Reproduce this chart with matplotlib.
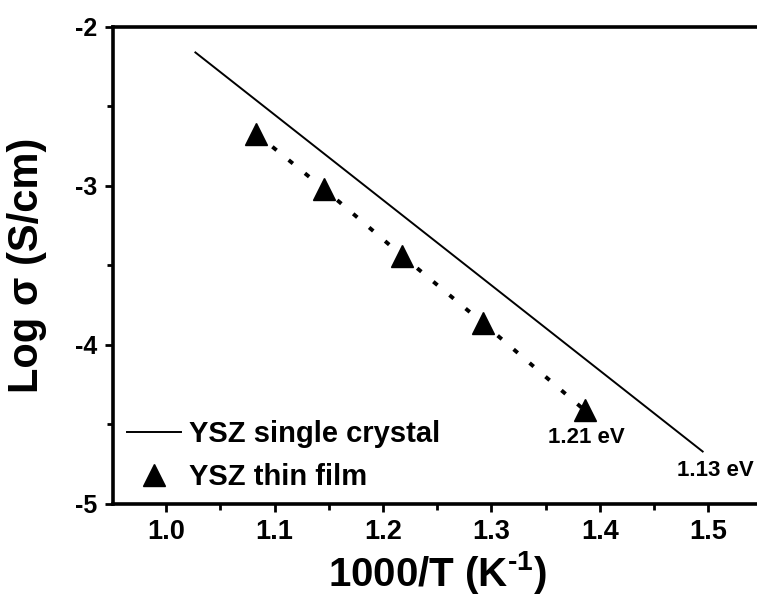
import matplotlib
matplotlib.use('Agg')
import matplotlib.pyplot as plt
import numpy as np

# DATA
crystal_x = [1.027, 1.495]          # 1000/T, single crystal fit line end points
crystal_y = [-2.16, -4.67]          # log sigma
film_x = [1.083, 1.146, 1.218, 1.292, 1.386]
film_y = [-2.67, -3.02, -3.44, -3.86, -4.41]
labels = ['YSZ single crystal', 'YSZ thin film']
ea_text = ['1.21 eV', '1.13 eV']
ea_x = [1.388, 1.5065]
ea_y = [-4.58, -4.79]
xticks = [1.0, 1.1, 1.2, 1.3, 1.4, 1.5]
yticks = [-5, -4, -3, -2]

matplotlib.rcParams.update({'font.family': 'Liberation Sans', 'font.weight': 'bold',
                            'axes.unicode_minus': False, 'mathtext.default': 'regular'})

fig = plt.figure(figsize=(7.57, 5.96), dpi=100)
ax = fig.add_axes([0.1493, 0.1544, 0.8577, 0.8003])

ax.plot(crystal_x, crystal_y, color='black', lw=1.4, label=labels[0])
ax.plot(film_x, film_y, color='black', lw=2.8, ls=(0, (1.4, 4.0)))
ax.plot(film_x, film_y, '^', color='black', ms=16.5, label=labels[1])
for t, x, y in zip(ea_text, ea_x, ea_y):
    ax.text(x, y, t, fontsize=16, fontweight='bold', ha='center', va='center')

ax.set_xlim(0.951, 1.55)
ax.set_ylim(-5, -2)
ax.set_xticks(xticks)
ax.set_xticks(np.arange(1.05, 1.55, 0.1), minor=True)
ax.set_yticks(yticks)
ax.set_yticks([-4.5, -3.5, -2.5], minor=True)
ax.set_xticklabels(['%.1f' % v for v in xticks])
ax.set_yticklabels(['%d' % v for v in yticks])
ax.tick_params(which='major', length=6, width=2, pad=5)
ax.tick_params(which='minor', length=4, width=2)
ax.tick_params(axis='x', labelsize=19.5)
ax.tick_params(axis='y', labelsize=18)
for sp in ax.spines.values():
    sp.set_linewidth(2.6)

# superscript with a plain hyphen like the original
ax.set_xlabel('1000/T (K$^{\u2010 1}$)', fontsize=29, fontweight='bold')
ax.xaxis.label.set_va('baseline')
ax.xaxis.set_label_coords(0.5, -0.172)
ax.set_ylabel('Log σ (S/cm)', fontsize=30, fontweight='bold')
ax.yaxis.set_label_coords(-0.102, 0.5)

ax.legend(loc='lower left', bbox_to_anchor=(0.012, 0.015), frameon=False,
          fontsize=21, handlelength=1.85, handletextpad=0.3, labelspacing=0.5,
          borderpad=0.2, borderaxespad=0.0)

plt.savefig('out.png', dpi=100)
